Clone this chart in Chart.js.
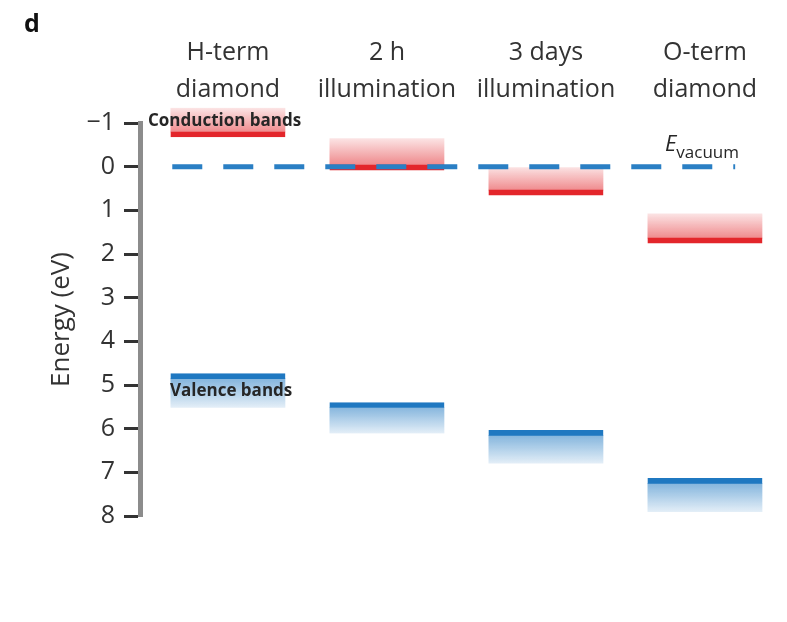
<!DOCTYPE html>
<html>
<head>
<meta charset="utf-8">
<script src="https://cdn.jsdelivr.net/npm/chart.js@4.4.0/dist/chart.umd.min.js"></script>
<style>
  html, body { margin: 0; padding: 0; background: #fff; }
  #wrap { width: 787px; height: 622px; position: relative; }
</style>
</head>
<body>
<div id="wrap"><canvas id="bandChart"></canvas></div>
<script>
// Sample columns (two-line headers)
const samples = [['H-term', 'diamond'], ['2 h', 'illumination'], ['3 days', 'illumination'], ['O-term', 'diamond']];

// Conduction band edge (eV) and top of its shaded region
const cbEdge = [-0.68, 0.08, 0.65, 1.75];
const cbShadeTop = [-1.35, -0.65, 0.00, 1.07];

// Valence band edge (eV) and bottom of its shaded region
const vbEdge = [4.74, 5.40, 6.04, 7.14];
const vbShadeBottom = [5.52, 6.11, 6.80, 7.91];

// Vacuum level and the column range it is drawn over
const vacuumLevel = 0;
const vacuumSpan = [-0.35, 3.19];

const energyMin = -1;
const energyMax = 8;

const TEXT = '#333333';
const RED = '#e3262b';
const BLUE = '#1f78c1';
const FONT = '"Open Sans", "DejaVu Sans", sans-serif';

/**
 * Vertical gradient for a floating bar, strong at the band edge
 */
function bandGradient(ctx, edgeIdx, rgb, strong, weak) {
  const chart = ctx.chart;
  if (!chart.chartArea || !ctx.raw) return 'rgba(' + rgb + ',' + weak + ')';
  const y = chart.scales.y;
  const edgePx = y.getPixelForValue(ctx.raw.y[edgeIdx]);
  const farPx = y.getPixelForValue(ctx.raw.y[1 - edgeIdx]);
  const g = chart.ctx.createLinearGradient(0, edgePx, 0, farPx);
  g.addColorStop(0, 'rgba(' + rgb + ',' + strong + ')');
  g.addColorStop(1, 'rgba(' + rgb + ',' + weak + ')');
  return g;
}

// Text labels drawn on top of the bands
const bandLabels = {
  id: 'bandLabels',
  afterDatasetsDraw(chart) {
    const { ctx, scales: { x, y } } = chart;
    ctx.save();
    ctx.fillStyle = '#262626';
    ctx.textBaseline = 'middle';
    ctx.textAlign = 'left';

    ctx.font = 'bold 17px ' + FONT;
    ctx.fillText('Conduction bands', x.getPixelForValue(0) - 80,
      y.getPixelForValue((cbShadeTop[0] + cbEdge[0]) / 2) - 1);
    ctx.fillText('Valence bands', x.getPixelForValue(0) - 58,
      y.getPixelForValue((vbEdge[0] + vbShadeBottom[0]) / 2));

    // E_vacuum
    ctx.textBaseline = 'alphabetic';
    const ex = x.getPixelForValue(3) - 40;
    const ey = y.getPixelForValue(vacuumLevel) - 16;
    ctx.font = 'italic 22px ' + FONT;
    ctx.fillText('E', ex, ey);
    const ew = ctx.measureText('E').width;
    ctx.font = '17px ' + FONT;
    ctx.fillText('vacuum', ex + ew, ey + 7);

    // panel letter
    ctx.font = 'bold 25px ' + FONT;
    ctx.fillStyle = '#111';
    ctx.fillText('d', 24, 32);
    ctx.restore();
  }
};

const ctx = document.getElementById('bandChart').getContext('2d');

new Chart(ctx, {
  type: 'bar',
  data: {
    datasets: [
      {
        type: 'line',
        label: 'Vacuum level',
        data: vacuumSpan.map(v => ({ x: v, y: vacuumLevel })),
        borderColor: '#2a7fc4',
        borderWidth: 5,
        borderDash: [30, 21],
        borderCapStyle: 'butt',
        pointRadius: 0,
        order: 0
      },
      {
        label: 'Conduction bands',
        data: samples.map((s, i) => ({ x: i, y: [cbShadeTop[i], cbEdge[i]] })),
        backgroundColor: c => bandGradient(c, 1, '226,38,43', 0.62, 0.12),
        borderColor: RED,
        borderWidth: { top: 0, right: 0, bottom: 5, left: 0 },
        borderSkipped: false,
        barThickness: 115,
        grouped: false,
        clip: false,
        order: 1
      },
      {
        label: 'Valence bands',
        data: samples.map((s, i) => ({ x: i, y: [vbEdge[i], vbShadeBottom[i]] })),
        backgroundColor: c => bandGradient(c, 0, '31,120,193', 0.62, 0.12),
        borderColor: BLUE,
        borderWidth: { top: 5, right: 0, bottom: 0, left: 0 },
        borderSkipped: false,
        barThickness: 115,
        grouped: false,
        clip: false,
        order: 1
      }
    ]
  },
  options: {
    responsive: true,
    maintainAspectRatio: false,
    animation: false,
    layout: {
      padding: { top: 0, left: 0, right: 7, bottom: 106 }
    },
    plugins: {
      legend: { display: false },
      tooltip: { enabled: false }
    },
    scales: {
      x: {
        type: 'linear',
        position: 'top',
        offset: false,
        min: -0.553,
        max: 3.472,
        afterBuildTicks: scale => {
          scale.ticks = samples.map((s, i) => ({ value: i }));
        },
        afterFit: scale => { scale.height = 123; },
        ticks: {
          callback: v => samples[v],
          autoSkip: false,
          maxRotation: 0,
          padding: 7,
          color: TEXT,
          font: { family: FONT, size: 25, lineHeight: 1.48 }
        },
        grid: { display: false },
        border: { display: false }
      },
      y: {
        type: 'linear',
        reverse: true,
        min: energyMin,
        max: energyMax,
        afterFit: scale => { scale.width = 140; },
        ticks: {
          stepSize: 1,
          padding: 9,
          color: TEXT,
          font: { family: FONT, size: 25 },
          callback: v => (v < 0 ? '\u2212' + Math.abs(v) : String(v))
        },
        grid: {
          drawOnChartArea: false,
          drawTicks: true,
          tickLength: 16,
          tickColor: '#333333',
          tickWidth: 3
        },
        border: { display: true, color: '#8c8c8c', width: 5 },
        title: {
          display: true,
          text: 'Energy (eV)',
          color: TEXT,
          font: { family: FONT, size: 26 },
          padding: { top: 46, bottom: 0 }
        }
      }
    }
  },
  plugins: [bandLabels]
});
</script>
</body>
</html>
